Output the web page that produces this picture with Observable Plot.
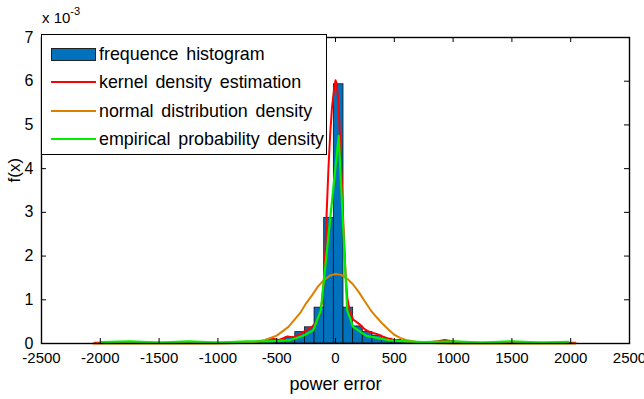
<!DOCTYPE html>
<html>
<head>
<meta charset="utf-8">
<script src="https://cdn.jsdelivr.net/npm/d3@7"></script>
<script src="https://cdn.jsdelivr.net/npm/@observablehq/plot@0.6"></script>
<style>
  html, body { margin: 0; padding: 0; background: #fff; }
  #wrap { position: relative; width: 644px; height: 399px; font-family: "Liberation Sans", Arial, sans-serif; }
  #expo { position: absolute; left: 42px; top: 7px; font-size: 15px; color: #000; }
  #expo sup { font-size: 11px; position: relative; top: -2px; }
  #legend { position: absolute; left: 41px; top: 34px; width: 286px; height: 121px; border: 1.5px solid #000; background: #fff; box-sizing: border-box; }
  .row { position: absolute; left: 0; height: 28px; }
  .sw { position: absolute; left: 9px; width: 45px; }
  .lab { position: absolute; left: 57px; font-size: 19px; white-space: nowrap; word-spacing: 3px; color: #000; line-height: 22px; transform: scaleX(0.94); transform-origin: 0 50%; }
</style>
</head>
<body>
<div id="wrap"></div>
<script>
// ---- data (values in units of 1e-3) ----
const xTicks = [-2500, -2000, -1500, -1000, -500, 0, 500, 1000, 1500, 2000, 2500];
const yTicks = [0, 1, 2, 3, 4, 5, 6, 7];

// histogram bins: left edges, right edges, heights
const binLeft  = [-916, -834, -752, -670, -588, -506, -424, -342, -260, -178, -96, -14, 68, 150, 232, 314, 396, 478, 560, 642, 724, 806, 888, 970];
const binRight = [-834, -752, -670, -588, -506, -424, -342, -260, -178, -96, -14, 68, 150, 232, 314, 396, 478, 560, 642, 724, 806, 888, 970, 1052];
const binHeight = [0.01, 0.01, 0.02, 0.03, 0.05, 0.08, 0.14, 0.26, 0.37, 0.82, 2.87, 5.93, 0.82, 0.39, 0.26, 0.18, 0.11, 0.08, 0.05, 0.02, 0.01, 0.02, 0.03, 0.01];

// kernel density estimation
const kdeX = [-2050, -1900, -1750, -1600, -1450, -1300, -1150, -1000, -850, -700, -600, -535, -480, -408, -360, -300, -250, -200, -160, -130, -115, -100, -88, -75, -60, -45, -30, -15, 0, 10, 25, 40, 55, 70, 85, 100, 120, 150, 200, 250, 300, 350, 400, 450, 500, 600, 700, 800, 870, 930, 990, 1100, 1250, 1400, 1550, 1700, 1850, 2000, 2040];
const kdeY = [0.02, 0.02, 0.015, 0.02, 0.015, 0.02, 0.015, 0.02, 0.02, 0.03, 0.06, 0.11, 0.08, 0.16, 0.14, 0.22, 0.3, 0.38, 0.5, 0.7, 0.95, 1.4, 2.0, 3.0, 4.0, 4.8, 5.4, 5.75, 6.02, 5.95, 5.5, 4.6, 3.6, 2.5, 1.6, 1.05, 0.75, 0.55, 0.45, 0.32, 0.25, 0.22, 0.16, 0.11, 0.08, 0.05, 0.03, 0.03, 0.05, 0.08, 0.05, 0.02, 0.015, 0.02, 0.015, 0.02, 0.015, 0.02, 0.02];

// normal distribution density
const normX = [-2060, -1500, -1000, -900, -800, -700, -600, -500, -400, -300, -250, -200, -150, -100, -50, 0, 50, 100, 150, 200, 250, 300, 350, 400, 450, 500, 550, 600, 700, 800, 900, 1000, 1500, 2040];
const normY = [0, 0, 0, 0.005, 0.01, 0.03, 0.08, 0.18, 0.38, 0.7, 0.92, 1.1, 1.3, 1.45, 1.55, 1.59, 1.57, 1.48, 1.35, 1.17, 0.96, 0.76, 0.6, 0.45, 0.32, 0.2, 0.13, 0.08, 0.03, 0.01, 0.004, 0, 0, 0];

// empirical probability density
const empX = [-1990, -1750, -1500, -1250, -1000, -750, -600, -400, -280, -190, -125, 27, 100, 150, 260, 460, 600, 750, 1000, 1250, 1500, 1750, 1980];
const empY = [0.03, 0.05, 0.02, 0.05, 0.02, 0.05, 0.05, 0.07, 0.17, 0.3, 0.75, 4.75, 0.75, 0.38, 0.18, 0.07, 0.05, 0.03, 0.05, 0.02, 0.05, 0.02, 0.04];

const legendLabels = ["frequence histogram", "kernel density estimation", "normal distribution density", "empirical probability density"];
const colors = { hist: "#0072BD", kde: "#FF0000", norm: "#DD8000", emp: "#00EE00" };

// ---- build tables ----
const bins = binLeft.map((x0, i) => ({ x0, x1: binRight[i], h: binHeight[i] }));
const kde = kdeX.map((x, i) => ({ x, y: kdeY[i] }));
const norm = normX.map((x, i) => ({ x, y: normY[i] }));
const emp = empX.map((x, i) => ({ x, y: empY[i] }));

const W = 644, H = 399, ML = 41, MR = 15, MT = 37, MB = 56;
const innerW = W - ML - MR, innerH = H - MT - MB, tick = 5;

const chart = Plot.plot({
  width: W, height: H,
  marginLeft: ML, marginRight: MR, marginTop: MT, marginBottom: MB,
  style: { fontFamily: "'Liberation Sans', Arial, sans-serif", fontSize: "15px", color: "#000", background: "#fff", overflow: "visible" },
  x: { domain: [-2500, 2500], label: null },
  y: { domain: [0, 7], label: null },
  marks: [
    Plot.rectY(bins, { x1: "x0", x2: "x1", y: "h", fill: colors.hist, stroke: "#111", strokeWidth: 0.8 }),
    Plot.line(kde, { x: "x", y: "y", stroke: colors.kde, strokeWidth: 2 }),
    Plot.line(norm, { x: "x", y: "y", stroke: colors.norm, strokeWidth: 2 }),
    Plot.line(emp, { x: "x", y: "y", stroke: colors.emp, strokeWidth: 2.2 }),
    Plot.ruleX(xTicks, { x: d => d, insetTop: innerH - tick, stroke: "#000" }),
    Plot.ruleX(xTicks, { x: d => d, insetBottom: innerH - tick, stroke: "#000" }),
    Plot.ruleY(yTicks, { y: d => d, insetRight: innerW - tick, stroke: "#000" }),
    Plot.ruleY(yTicks, { y: d => d, insetLeft: innerW - tick, stroke: "#000" }),
    Plot.frame({ stroke: "#000", strokeWidth: 1.4 }),
    Plot.axisX(xTicks, { tickSize: 0, tickPadding: 9, fontSize: 15, label: null, tickFormat: d => String(d) }),
    Plot.axisY(yTicks, { tickSize: 0, tickPadding: 8, fontSize: 16, label: null, tickFormat: d => String(d) }),
    Plot.text(["power error"], { text: d => d, frameAnchor: "bottom", dy: 46, fontSize: 18 }),
    Plot.text(["f(x)"], { text: d => d, frameAnchor: "left", dx: -27, dy: -8, rotate: -90, fontSize: 17 })
  ]
});

const wrap = document.getElementById("wrap");
wrap.appendChild(chart);

const expo = document.createElement("div");
expo.id = "expo";
expo.innerHTML = "x 10<sup>-3</sup>";
wrap.appendChild(expo);

const legend = document.createElement("div");
legend.id = "legend";
const rowTops = [5, 33, 62, 90];
const keys = ["hist", "kde", "norm", "emp"];
legendLabels.forEach((lab, i) => {
  const row = document.createElement("div");
  row.className = "row";
  row.style.top = rowTops[i] + "px";
  row.style.width = "100%";
  const sw = document.createElement("div");
  sw.className = "sw";
  if (i === 0) {
    sw.style.height = "13px";
    sw.style.top = "8px";
    sw.style.background = colors.hist;
    sw.style.border = "1px solid #222";
    sw.style.boxSizing = "border-box";
  } else {
    sw.style.height = "2px";
    sw.style.top = "13px";
    sw.style.background = colors[keys[i]];
  }
  const t = document.createElement("div");
  t.className = "lab";
  t.style.top = "3px";
  t.textContent = lab;
  row.appendChild(sw);
  row.appendChild(t);
  legend.appendChild(row);
});
wrap.appendChild(legend);
</script>
</body>
</html>
